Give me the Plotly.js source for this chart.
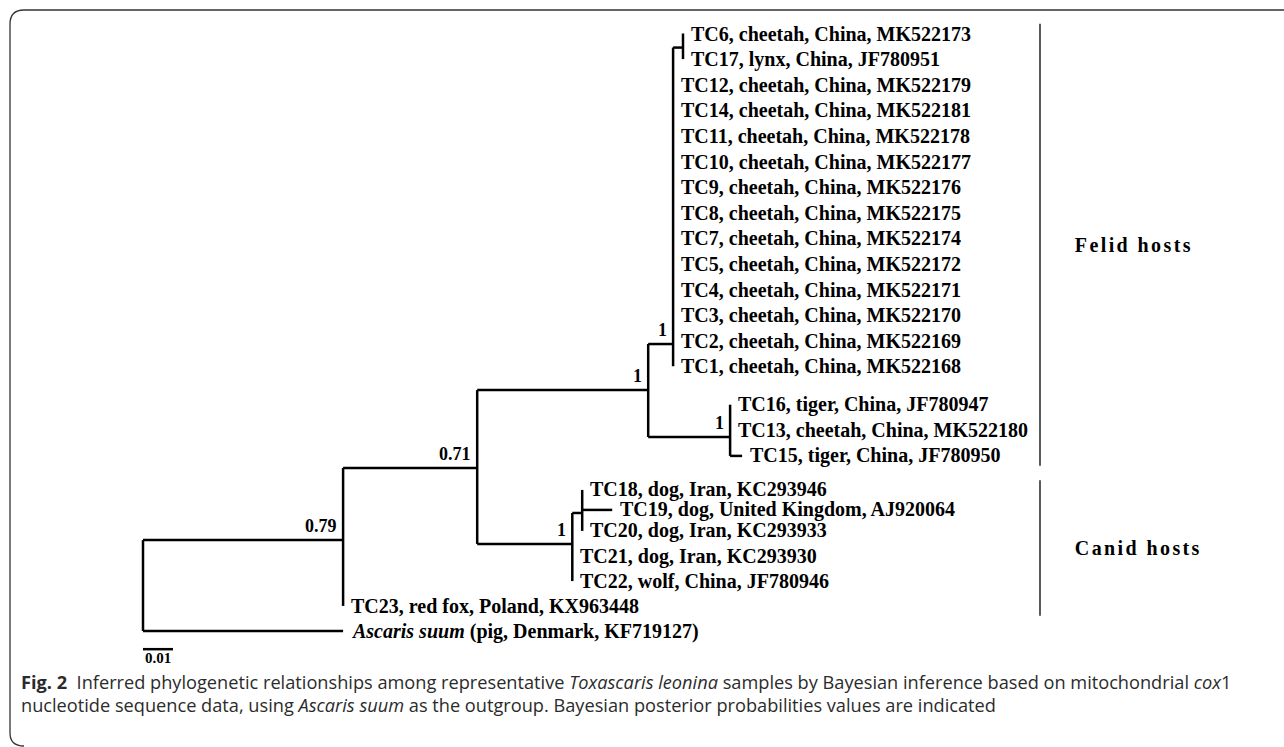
<!DOCTYPE html>
<html>
<head>
<meta charset="utf-8">
<script src="https://cdn.plot.ly/plotly-3.0.1.min.js"></script>
<style>
html,body{margin:0;padding:0;background:#fff;}
#chart{width:1284px;height:747px;}
</style>
</head>
<body>
<div id="chart"></div>
<script>
// ---------- DATA ----------
// internal nodes of the tree
const internalNodes  = ['root','n079','n071','felid','felidSub','f617','tiger','canid','canidD'];
const internalParent = [null,'root','n079','n071','felid','felidSub','felid','n071','canid'];
const internalBranch = [0, 0.0667, 0.0447, 0.0570, 0.0083, 0.0033, 0.0273, 0.0317, 0.0033];
const internalRow    = [null, 19.79, 16.97, 13.93, 12.13, 0.55, 15.76, 19.94, 18.73];
const supportValues  = [null, '0.79', '0.71', '1', '1', null, '1', '1', null];

// leaves (terminal taxa)
const leafLabels = [
  'TC6, cheetah, China, MK522173',
  'TC17, lynx, China, JF780951',
  'TC12, cheetah, China, MK522179',
  'TC14, cheetah, China, MK522181',
  'TC11, cheetah, China, MK522178',
  'TC10, cheetah, China, MK522177',
  'TC9, cheetah, China, MK522176',
  'TC8, cheetah, China, MK522175',
  'TC7, cheetah, China, MK522174',
  'TC5, cheetah, China, MK522172',
  'TC4, cheetah, China, MK522171',
  'TC3, cheetah, China, MK522170',
  'TC2, cheetah, China, MK522169',
  'TC1, cheetah, China, MK522168',
  'TC16, tiger, China, JF780947',
  'TC13, cheetah, China, MK522180',
  'TC15, tiger, China, JF780950',
  'TC18, dog, Iran, KC293946',
  'TC19, dog, United Kingdom, AJ920064',
  'TC20, dog, Iran, KC293933',
  'TC21, dog, Iran, KC293930',
  'TC22, wolf, China, JF780946',
  'TC23, red fox, Poland, KX963448',
  '<i>Ascaris suum</i> (pig, Denmark, KF719127)'
];
const leafParent = ['f617','f617','felidSub','felidSub','felidSub','felidSub','felidSub','felidSub','felidSub','felidSub','felidSub','felidSub','felidSub','felidSub','tiger','tiger','tiger','canidD','canidD','canidD','canid','canid','n079','root'];
const leafBranch = [0,0,0,0,0,0,0,0,0,0,0,0,0,0,0,0,0.004,0,0.010,0,0,0,0,0.0667];
const leafRow    = [0,1,2,3,4,5,6,7,8,9,10,11,12,13,14.5,15.5,16.5,17.83,18.61,19.43,20.41,21.39,22.36,23.34];

// host groups (first and last leaf index)
const groupNames = ['Felid hosts','Canid hosts'];
const groupFirst = [0, 17];
const groupLast  = [16, 22];

const scaleBarLength = 0.01;
const scaleBarLabel = '0.01';

const captionLine1 = '<b>Fig. 2</b>  Inferred phylogenetic relationships among representative <i>Toxascaris leonina</i> samples by Bayesian inference based on mitochondrial <i>cox</i>1';
const captionLine2 = 'nucleotide sequence data, using <i>Ascaris suum</i> as the outgroup. Bayesian posterior probabilities values are indicated';

// ---------- BUILD TREE GEOMETRY ----------
const nodeX = {}, nodeY = {};
internalNodes.forEach((id,i)=>{ nodeY[id] = internalRow[i]; });
function xOf(id){
  if (id in nodeX) return nodeX[id];
  const i = internalNodes.indexOf(id);
  const p = internalParent[i];
  nodeX[id] = (p === null ? 0 : xOf(p)) + internalBranch[i];
  return nodeX[id];
}
internalNodes.forEach(xOf);

const lx = [], ly = [];
function seg(x0,y0,x1,y1){ lx.push(x0,x1,null); ly.push(y0,y1,null); }

internalNodes.forEach((id,i)=>{
  const p = internalParent[i];
  if (p !== null) seg(nodeX[p], nodeY[id], nodeX[id], nodeY[id]);
});
const leafX = leafLabels.map((_,i)=> nodeX[leafParent[i]] + leafBranch[i]);
leafLabels.forEach((_,i)=>{
  if (leafBranch[i] > 0) seg(nodeX[leafParent[i]], leafRow[i], leafX[i], leafRow[i]);
});
internalNodes.forEach((id)=>{
  const ys = [];
  internalNodes.forEach((c,j)=>{ if (internalParent[j] === id) ys.push(nodeY[c]); });
  leafParent.forEach((p,j)=>{ if (p === id) ys.push(leafRow[j]); });
  if (ys.length) seg(nodeX[id], Math.min(...ys), nodeX[id], Math.max(...ys));
});

const serif = 'Liberation Serif, Times New Roman, serif';
const traces = [{
  x: lx, y: ly, mode: 'lines', type: 'scatter',
  line: {color: '#000', width: 2.5}, hoverinfo: 'skip'
}];

// scale bar
const scaleRow = 24.05;
traces.push({
  x: [0, scaleBarLength], y: [scaleRow, scaleRow], mode: 'lines', type: 'scatter',
  line: {color: '#000', width: 2.5}, hoverinfo: 'skip'
});

// group brackets
const bracketX = 0.299;
const bracketPad = 0.38;
groupNames.forEach((g,i)=>{
  traces.push({
    x: [bracketX, bracketX],
    y: [leafRow[groupFirst[i]] - bracketPad, leafRow[groupLast[i]] + bracketPad],
    mode: 'lines', type: 'scatter', line: {color: '#000', width: 1.3}, hoverinfo: 'skip'
  });
});

const annotations = [];
leafLabels.forEach((t,i)=>{
  annotations.push({
    x: leafX[i], y: leafRow[i], xref: 'x', yref: 'y', text: t, showarrow: false,
    xanchor: 'left', yanchor: 'middle', xshift: 6,
    font: {family: serif, size: 20, color: '#000', weight: 700}
  });
});
internalNodes.forEach((id,i)=>{
  if (!supportValues[i]) return;
  annotations.push({
    x: nodeX[id], y: nodeY[id], xref: 'x', yref: 'y', text: supportValues[i], showarrow: false,
    xanchor: 'right', yanchor: 'bottom', xshift: -4, yshift: 2,
    font: {family: serif, size: 18, color: '#000', weight: 700}
  });
});
groupNames.forEach((g,i)=>{
  annotations.push({
    x: bracketX, y: (leafRow[groupFirst[i]] + leafRow[groupLast[i]]) / 2, xref: 'x', yref: 'y',
    text: g, showarrow: false, xanchor: 'left', yanchor: 'middle', xshift: 46,
    font: {family: serif, size: 20, color: '#000', weight: 700}
  });
});
annotations.push({
  x: scaleBarLength/2, y: scaleRow, xref: 'x', yref: 'y', text: scaleBarLabel, showarrow: false,
  xanchor: 'center', yanchor: 'top', yshift: 0, borderpad: 0,
  font: {family: serif, size: 15, color: '#000', weight: 700}
});
annotations.push({
  x: 20/1284, y: 1 - 682/747, xref: 'paper', yref: 'paper', text: captionLine1, showarrow: false,
  xanchor: 'left', yanchor: 'middle', borderpad: 0, font: {family: 'Open Sans, sans-serif', size: 18.2, color: '#2b2b2b'}
});
annotations.push({
  x: 20/1284, y: 1 - 705/747, xref: 'paper', yref: 'paper', text: captionLine2, showarrow: false,
  xanchor: 'left', yanchor: 'middle', borderpad: 0, font: {family: 'Open Sans, sans-serif', size: 18.2, color: '#2b2b2b'}
});

// frame (top and left border with rounded corners), in paper coords
function px(v){ return (v/1284).toFixed(5); }
function py(v){ return (1 - v/747).toFixed(5); }
const framePath = `M ${px(1284)} ${py(10)} L ${px(24)} ${py(10)} Q ${px(10)} ${py(10)} ${px(10)} ${py(24)} L ${px(10)} ${py(733)} Q ${px(10)} ${py(746)} ${px(24)} ${py(746)}`;

const layout = {
  width: 1284, height: 747,
  margin: {l: 0, r: 0, t: 0, b: 0, pad: 0},
  paper_bgcolor: '#fff', plot_bgcolor: '#fff',
  showlegend: false,
  xaxis: {range: [-143/3000, (1284-143)/3000], visible: false, fixedrange: true},
  yaxis: {range: [(747-33.5)/25.6, -33.5/25.6], visible: false, fixedrange: true},
  annotations: annotations,
  shapes: [{type: 'path', xref: 'paper', yref: 'paper', path: framePath, line: {color: '#333', width: 1.3}}]
};

Plotly.newPlot('chart', traces, layout, {staticPlot: true, displayModeBar: false}).then(()=>{
  document.querySelectorAll('.annotation-text').forEach(el=>{
    if (/hosts/.test(el.textContent)) el.style.letterSpacing = '2.4px';
  });
});
</script>
</body>
</html>
